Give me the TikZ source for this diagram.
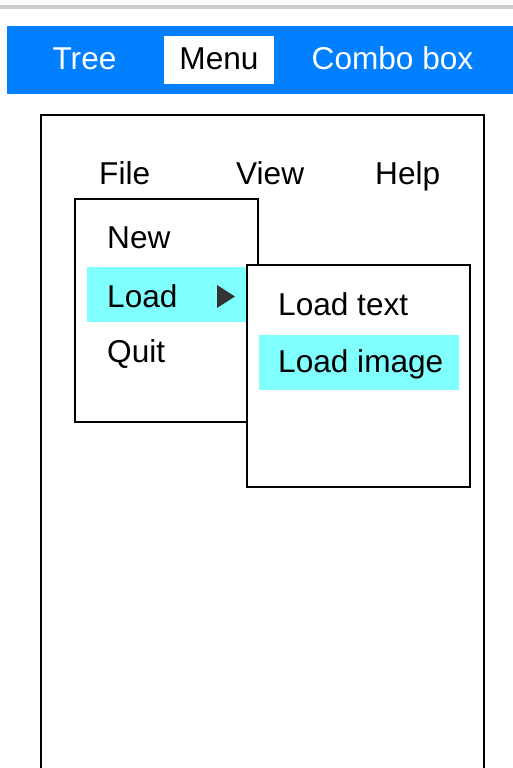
\documentclass[tikz,border=0pt]{standalone}
\usepackage{fontspec}
\setmainfont{Liberation Sans}
\definecolor{tabblue}{RGB}{0,128,255}
\definecolor{hilite}{RGB}{128,255,255}
\definecolor{rulegray}{RGB}{204,204,204}
\tikzset{
  tab/.style={anchor=base,inner sep=0pt},
  item/.style={anchor=base west,inner sep=0pt},
  menubox/.style={draw=black,line width=1.5pt,fill=white},
}
\begin{document}
\begin{tikzpicture}[x=1pt,y=-1pt,font=\fontsize{31.6}{36}\selectfont]
\useasboundingbox (0,0) rectangle (513,768);

%------------------------------------------------
% TOP: tab bar
%------------------------------------------------
\fill[rulegray] (0,5.5) rectangle (513,9.5);
\fill[tabblue] (7,26) rectangle (513,94);
\fill[white] (164,36) rectangle (274,84);

\node[tab,text=white] (tree) at (84.5,70) {Tree};
\node[tab,text=black] (menu) at (219,70) {Menu};
\node[tab,text=white] (combo) at (392.5,70) {Combo box};

%------------------------------------------------
% WINDOW: menu bar
%------------------------------------------------
\draw[line width=1.5pt] (41,770)--(41,115)--(484,115)--(484,770);

\node[item] (file) at (99,184) {File};
\node[item] (view) at (236,184) {View};
\node[item] (help) at (375,184) {Help};

%------------------------------------------------
% File menu
%------------------------------------------------
\draw[menubox] (75,199) rectangle (258,422);
\fill[hilite] (87,267) rectangle (258,322);

\node[item] (new) at (107,248) {New};
\node[item] (load) at (107,307) {Load};
\node[item] (quit) at (107,362) {Quit};

% submenu arrow
\fill[black!80] (217,285)--(235,296.5)--(217,308)--cycle;

%------------------------------------------------
% Load submenu
%------------------------------------------------
\draw[menubox] (247,265) rectangle (470,487);
\fill[hilite] (259,335) rectangle (459,390);

\node[item] (loadtext) at (278,315) {Load text};
\node[item] (loadimage) at (278,372) {Load image};

\end{tikzpicture}
\end{document}
